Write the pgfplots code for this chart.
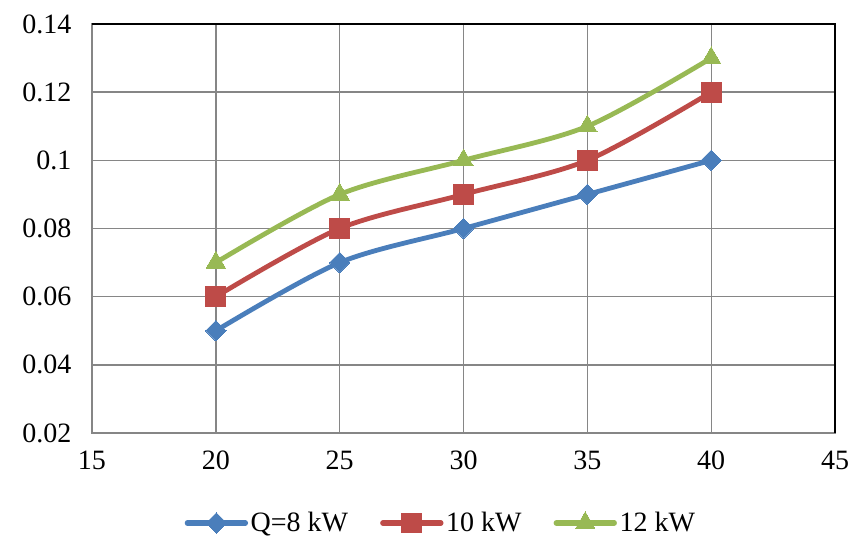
\documentclass[border=0pt]{standalone}
\usepackage{pgfplots}
\pgfplotsset{compat=1.18}
\usepackage{fontspec}
\setmainfont{Liberation Serif}
\definecolor{cblue}{RGB}{74,126,187}
\definecolor{cred}{RGB}{190,75,72}
\definecolor{cgreen}{RGB}{152,185,84}
\definecolor{cgrid}{RGB}{134,134,134}
\begin{document}
\begin{tikzpicture}
\begin{axis}[
  scale only axis,
  width=557.25pt, height=306.75pt,
  xmin=15, xmax=45, ymin=0.02, ymax=0.14,
  xtick={15,20,...,45},
  ytick={0.02,0.04,...,0.14},
  yticklabels={0.02,0.04,0.06,0.08,0.1,0.12,0.14},
  /pgf/number format/assume math mode=true,
  font=\fontsize{21}{24}\selectfont,
  tick label style={font=\fontsize{21}{24}\selectfont},
  grid=major,
  grid style={cgrid, line width=1pt},
  axis line style={cgrid, line width=1pt},
  major tick length=0pt,
  xticklabel style={yshift=-10pt},
  yticklabel style={xshift=-12pt},
  legend columns=3,
  legend style={draw=none, at={(0.47,-0.22)}, anchor=center, font=\fontsize{21}{24}\selectfont,
    /tikz/every even column/.append style={column sep=22pt}, inner sep=0pt},
  legend cell align=left,
  legend image code/.code={\draw[#1,mark=none,line width=4pt,line cap=round] (0pt,0pt) -- (43.5pt,0pt); \draw[#1] plot coordinates {(21.75pt,0pt)};},
  every axis plot/.append style={line width=3.6pt, smooth, tension=0.5},
  after end axis/.code={\draw[black, line width=1.2pt] (rel axis cs:0,1) -- (rel axis cs:1,1) -- (rel axis cs:1,0);},
]
\addplot[cblue, line width=3.6pt, mark=square*, mark size=5.4pt, mark options={solid, rotate=45, line width=0pt, draw=cblue, fill=cblue}] coordinates {(20,0.05) (25,0.07) (30,0.08) (35,0.09) (40,0.10)};
\addlegendentry{Q=8 kW}
\addplot[cred, line width=3.6pt, mark=square*, mark size=7.4pt, mark options={solid, line width=0pt, draw=cred, fill=cred}] coordinates {(20,0.06) (25,0.08) (30,0.09) (35,0.10) (40,0.12)};
\addlegendentry{10 kW}
\addplot[cgreen, line width=3.6pt, mark=triangle*, mark size=8.4pt, mark options={solid, line width=0pt, draw=cgreen, fill=cgreen}] coordinates {(20,0.07) (25,0.09) (30,0.10) (35,0.11) (40,0.13)};
\addlegendentry{12 kW}
\end{axis}
\pgfresetboundingbox
\useasboundingbox ([xshift=-69pt, yshift=-82.5pt]current axis.south west) rectangle ([xshift=12.75pt, yshift=18pt]current axis.north east);
\end{tikzpicture}
\end{document}
